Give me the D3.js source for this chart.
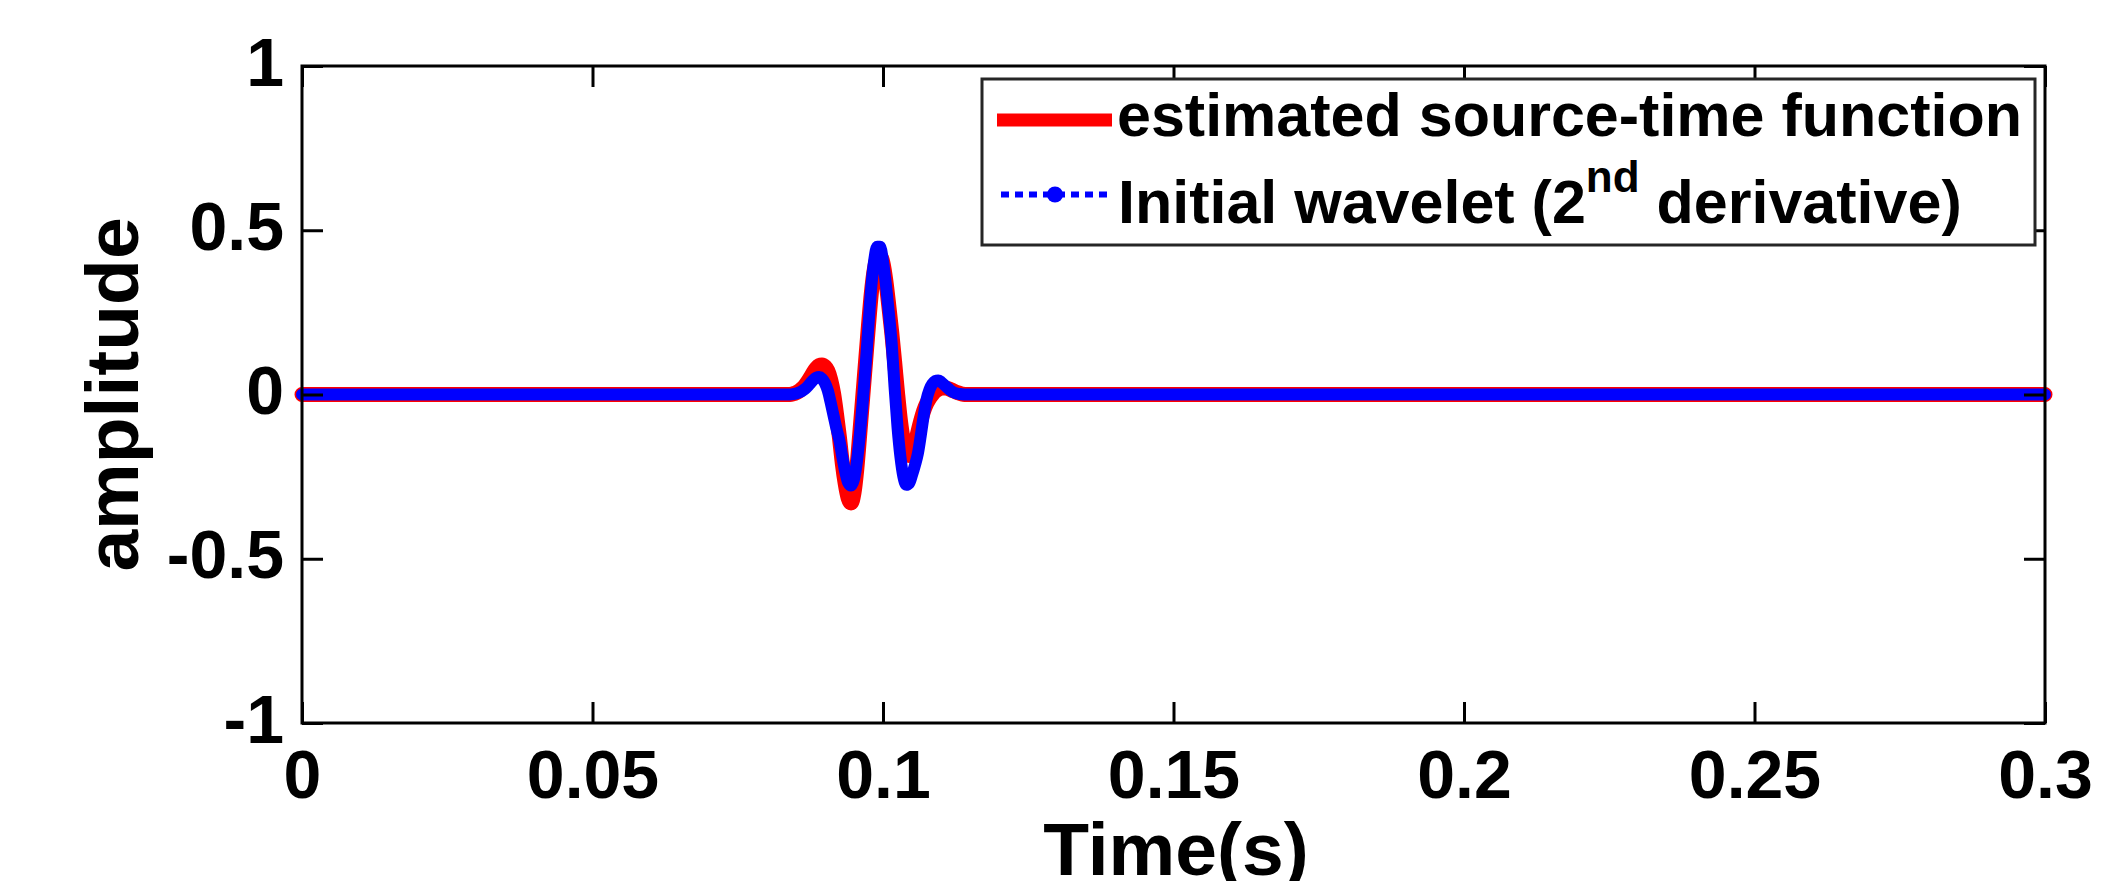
<!DOCTYPE html>
<html lang="en">

<head>
    <meta charset="UTF-8" />
    <script src="https://d3js.org/d3.v7.min.js"></script>
    <title>estimated source-time function</title>
    <style>
        body {
            margin: 0;
            background: #fff;
        }

        svg {
            display: block;
            font-family: "Liberation Sans", Arial, Helvetica, sans-serif;
            font-weight: bold;
        }
    </style>
</head>

<body>
    <svg width="2128" height="881"></svg>
</body>
<script>
    // tick labels
    const xTicks = [0, 0.05, 0.1, 0.15, 0.2, 0.25, 0.3]
    const yTicks = [-1, -0.5, 0, 0.5, 1]
    const seriesNames = ["estimated source-time function", "Initial wavelet (2", "nd", " derivative)"]

    // sample times (s); flat zero outside the wavelet
    const sampleTime = [0,
        0.0840, 0.0845, 0.0850, 0.0855, 0.0860, 0.0865, 0.0870, 0.0875, 0.0880, 0.0885,
        0.0890, 0.0895, 0.0900, 0.0905, 0.0910, 0.0915, 0.0920, 0.0925, 0.0930, 0.0935,
        0.0940, 0.0945, 0.0950, 0.0955, 0.0960, 0.0965, 0.0970, 0.0975, 0.0980, 0.0985,
        0.0990, 0.0995, 0.1000, 0.1005, 0.1010, 0.1015, 0.1020, 0.1025, 0.1030, 0.1035,
        0.1040, 0.1045, 0.1050, 0.1055, 0.1060, 0.1065, 0.1070, 0.1075, 0.1080, 0.1085,
        0.1090, 0.1095, 0.1100, 0.1105, 0.1110, 0.1115, 0.1120, 0.1125, 0.1130, 0.1135,
        0.1140, 0.3]

    // red: estimated source-time function
    const estimatedAmp = [0,
        0, 0.002, 0.005, 0.010, 0.017, 0.026, 0.038, 0.052, 0.067, 0.080,
        0.088, 0.090, 0.085, 0.072, 0.045, 0.002, -0.060, -0.130, -0.210, -0.272,
        -0.315, -0.330, -0.300, -0.225, -0.120, -0.010, 0.100, 0.210, 0.310, 0.380,
        0.415, 0.420, 0.400, 0.345, 0.270, 0.190, 0.100, 0.005, -0.080, -0.140,
        -0.175, -0.186, -0.178, -0.152, -0.115, -0.080, -0.050, -0.028, -0.012, 0.000,
        0.010, 0.016, 0.019, 0.020, 0.019, 0.016, 0.012, 0.008, 0.005, 0.002,
        0, 0]

    // blue: initial wavelet (2nd derivative)
    const initialAmp = [0,
        0, 0.001, 0.003, 0.006, 0.010, 0.016, 0.024, 0.034, 0.044, 0.051,
        0.053, 0.048, 0.035, 0.012, -0.025, -0.065, -0.105, -0.140, -0.190, -0.235,
        -0.268, -0.277, -0.258, -0.205, -0.125, -0.025, 0.085, 0.210, 0.330, 0.410,
        0.450, 0.450, 0.405, 0.335, 0.250, 0.154, 0.020, -0.100, -0.190, -0.250,
        -0.275, -0.270, -0.245, -0.215, -0.180, -0.125, -0.065, -0.015, 0.015, 0.032,
        0.041, 0.043, 0.038, 0.030, 0.022, 0.014, 0.008, 0.004, 0.002, 0.001,
        0, 0]

    const width = 2128
    const height = 881
    const margin = { left: 302, right: 83, top: 66, bottom: 158 }
    const tickLen = 21

    const x = d3.scaleLinear().domain([0, 0.3]).range([margin.left, width - margin.right])
    const y = d3.scaleLinear().domain([-1, 1]).range([height - margin.bottom, margin.top])

    const svg = d3.select("svg")

    const estimated = sampleTime.map((t, i) => ({ t: t, v: estimatedAmp[i] }))
    const initial = sampleTime.map((t, i) => ({ t: t, v: initialAmp[i] }))
    const line = d3.line().x(d => x(d.t)).y(d => y(d.v)).curve(d3.curveMonotoneX)

    // curves
    svg.append("path").datum(estimated).attr("d", line)
        .attr("fill", "none").attr("stroke", "#ff0000").attr("stroke-width", 15)
        .attr("stroke-linejoin", "round").attr("stroke-linecap", "round")
    svg.append("path").datum(initial).attr("d", line)
        .attr("fill", "none").attr("stroke", "#0000ff").attr("stroke-width", 12)
        .attr("stroke-linejoin", "round").attr("stroke-linecap", "round")

    // axes (ticks pointing inward on all four sides)
    const styleAxis = g => {
        g.attr("font-size", 68).attr("font-family", null)
        g.select(".domain").remove()
        g.selectAll(".tick line").attr("stroke", "#000").attr("stroke-width", 3)
        g.selectAll(".tick text").attr("fill", "#000")
    }
    svg.append("g").attr("transform", `translate(0,${y(-1)})`)
        .call(d3.axisBottom(x).tickValues(xTicks).tickSize(-tickLen).tickFormat(d => String(d)))
        .call(styleAxis)
        .call(g => g.selectAll(".tick text").attr("y", 75).attr("dy", null))
    svg.append("g").attr("transform", `translate(0,${y(1)})`)
        .call(d3.axisTop(x).tickValues(xTicks).tickSize(-tickLen).tickFormat(""))
        .call(styleAxis)
    svg.append("g").attr("transform", `translate(${x(0)},0)`)
        .call(d3.axisLeft(y).tickValues(yTicks).tickSize(-tickLen).tickPadding(18).tickFormat(d => String(d)))
        .call(styleAxis)
        .call(g => g.selectAll(".tick text").attr("dy", "0.28em"))
    svg.append("g").attr("transform", `translate(${x(0.3)},0)`)
        .call(d3.axisRight(y).tickValues(yTicks).tickSize(-tickLen).tickFormat(""))
        .call(styleAxis)

    svg.append("rect")
        .attr("x", x(0)).attr("y", y(1))
        .attr("width", x(0.3) - x(0)).attr("height", y(-1) - y(1))
        .attr("fill", "none").attr("stroke", "#000").attr("stroke-width", 3)

    // axis labels
    svg.append("text").attr("x", 1176).attr("y", 875)
        .attr("text-anchor", "middle").attr("font-size", 75).text("Time(s)")
    svg.append("text").attr("transform", `translate(138,${y(0)}) rotate(-90)`)
        .attr("text-anchor", "middle").attr("font-size", 75).text("amplitude")

    // legend
    const legend = svg.append("g")
    legend.append("rect").attr("x", 982).attr("y", 79).attr("width", 1053).attr("height", 166)
        .attr("fill", "#fff").attr("stroke", "#262626").attr("stroke-width", 3)
    legend.append("line").attr("x1", 997).attr("x2", 1112).attr("y1", 120).attr("y2", 120)
        .attr("stroke", "#ff0000").attr("stroke-width", 13)
    legend.append("line").attr("x1", 1001).attr("x2", 1108).attr("y1", 194.5).attr("y2", 194.5)
        .attr("stroke", "#0000ff").attr("stroke-width", 6).attr("stroke-dasharray", "8 6")
    legend.append("circle").attr("cx", 1055).attr("cy", 194.5).attr("r", 8).attr("fill", "#0000ff")

    legend.append("text").attr("x", 1117).attr("y", 136).attr("font-size", 61).text(seriesNames[0])
    const label2 = legend.append("text").attr("x", 1118).attr("y", 223).attr("font-size", 61)
        .style("white-space", "pre")
    label2.append("tspan").text(seriesNames[1])
    label2.append("tspan").attr("font-size", 44).attr("dy", -31).text(seriesNames[2])
    label2.append("tspan").attr("dy", 31).text(seriesNames[3])
</script>

</html>
